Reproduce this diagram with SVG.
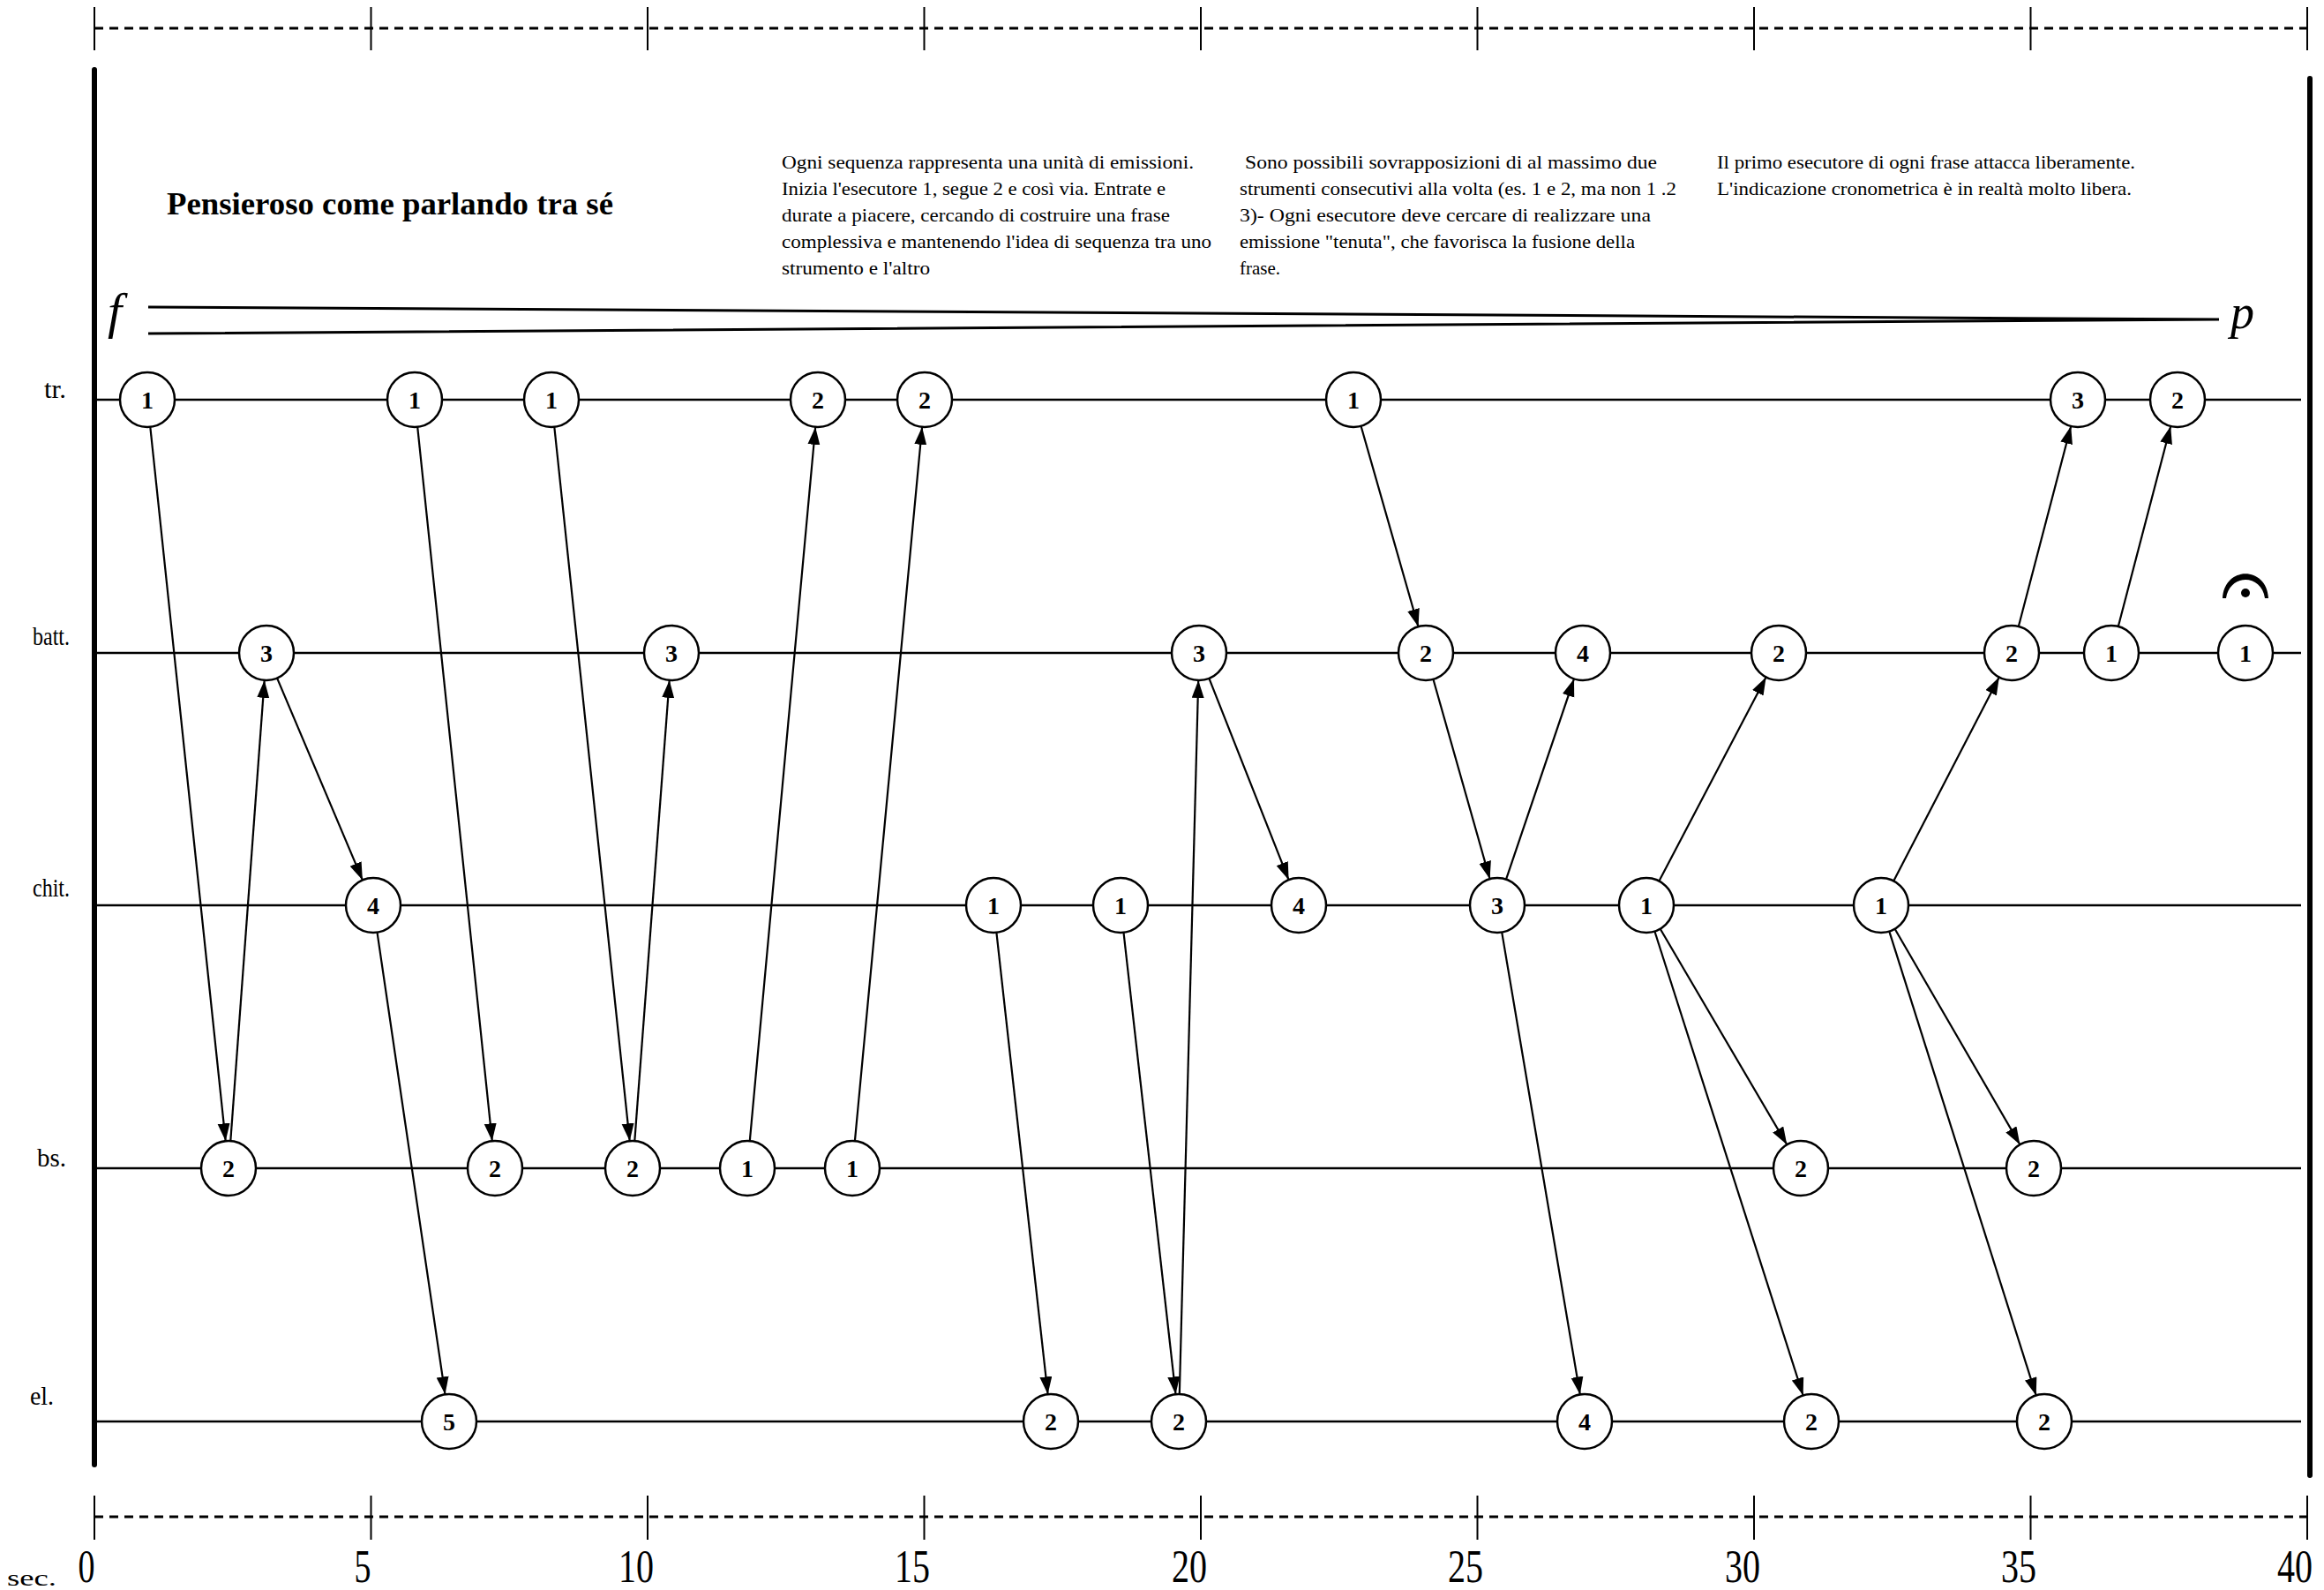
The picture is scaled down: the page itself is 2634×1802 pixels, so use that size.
<svg xmlns="http://www.w3.org/2000/svg" width="2634" height="1802" viewBox="0 0 2634 1802">
<style>
text{font-family:"Liberation Serif","DejaVu Serif",serif;fill:#000}
.staff{stroke:#000;stroke-width:2.5}
.bar{stroke:#000;stroke-width:6;stroke-linecap:round}
.tick{stroke:#000;stroke-width:2}
.dash{stroke:#000;stroke-width:3;stroke-dasharray:10 7}
.conn line{stroke:#000;stroke-width:2.2;marker-end:url(#ah)}
.node circle{fill:#fff;stroke:#000;stroke-width:2.5}
.node text{font-weight:bold;font-size:28px;text-anchor:middle}
.lbl{font-size:30px}
.note{font-size:21px}
.num{font-size:52px;text-anchor:middle}
</style>
<defs>
<marker id="ah" markerUnits="userSpaceOnUse" markerWidth="21" markerHeight="15" refX="20" refY="7" orient="auto">
<path d="M0,0 L20,7 L0,14 z" fill="#000"/>
</marker>
</defs>
<rect width="2634" height="1802" fill="#fff"/>

<g id="ruler-top">
<line class="dash" x1="107" y1="32" x2="2620" y2="32"/>
<line class="tick" x1="107" y1="8" x2="107" y2="57"/>
<line class="tick" x1="420.5" y1="8" x2="420.5" y2="57"/>
<line class="tick" x1="734" y1="8" x2="734" y2="57"/>
<line class="tick" x1="1047.5" y1="8" x2="1047.5" y2="57"/>
<line class="tick" x1="1361" y1="8" x2="1361" y2="57"/>
<line class="tick" x1="1674.5" y1="8" x2="1674.5" y2="57"/>
<line class="tick" x1="1988" y1="8" x2="1988" y2="57"/>
<line class="tick" x1="2301.5" y1="8" x2="2301.5" y2="57"/>
<line class="tick" x1="2615" y1="8" x2="2615" y2="57"/>
</g>

<g id="ruler-bottom">
<line class="dash" x1="107" y1="1719" x2="2620" y2="1719"/>
<line class="tick" x1="107" y1="1695" x2="107" y2="1745"/>
<line class="tick" x1="420.5" y1="1695" x2="420.5" y2="1745"/>
<line class="tick" x1="734" y1="1695" x2="734" y2="1745"/>
<line class="tick" x1="1047.5" y1="1695" x2="1047.5" y2="1745"/>
<line class="tick" x1="1361" y1="1695" x2="1361" y2="1745"/>
<line class="tick" x1="1674.5" y1="1695" x2="1674.5" y2="1745"/>
<line class="tick" x1="1988" y1="1695" x2="1988" y2="1745"/>
<line class="tick" x1="2301.5" y1="1695" x2="2301.5" y2="1745"/>
<line class="tick" x1="2615" y1="1695" x2="2615" y2="1745"/>
<text x="8" y="1797" font-size="26" textLength="56" lengthAdjust="spacingAndGlyphs">sec.</text>
<text class="num" x="98" y="1793" textLength="19" lengthAdjust="spacingAndGlyphs">0</text>
<text class="num" x="411" y="1793" textLength="19" lengthAdjust="spacingAndGlyphs">5</text>
<text class="num" x="721" y="1793" textLength="40" lengthAdjust="spacingAndGlyphs">10</text>
<text class="num" x="1034" y="1793" textLength="40" lengthAdjust="spacingAndGlyphs">15</text>
<text class="num" x="1348" y="1793" textLength="40" lengthAdjust="spacingAndGlyphs">20</text>
<text class="num" x="1661" y="1793" textLength="40" lengthAdjust="spacingAndGlyphs">25</text>
<text class="num" x="1975" y="1793" textLength="40" lengthAdjust="spacingAndGlyphs">30</text>
<text class="num" x="2288" y="1793" textLength="40" lengthAdjust="spacingAndGlyphs">35</text>
<text class="num" x="2601" y="1793" textLength="40" lengthAdjust="spacingAndGlyphs">40</text>
</g>

<g id="bars">
<line class="bar" x1="107" y1="79" x2="107" y2="1660"/>
<line class="bar" x1="2618" y1="89" x2="2618" y2="1672"/>
</g>

<g id="header">
<text x="189" y="243" font-size="36" font-weight="bold" textLength="506" lengthAdjust="spacingAndGlyphs">Pensieroso come parlando tra sé</text>
<g class="note">
<text x="886" y="191" textLength="467" lengthAdjust="spacingAndGlyphs">Ogni sequenza rappresenta una unità di emissioni.</text>
<text x="886" y="221" textLength="435" lengthAdjust="spacingAndGlyphs">Inizia l'esecutore 1, segue 2 e così via. Entrate e</text>
<text x="886" y="251" textLength="440" lengthAdjust="spacingAndGlyphs">durate a piacere, cercando di costruire una frase</text>
<text x="886" y="281" textLength="487" lengthAdjust="spacingAndGlyphs">complessiva e mantenendo l'idea di sequenza tra uno</text>
<text x="886" y="311" textLength="168" lengthAdjust="spacingAndGlyphs">strumento e l'altro</text>
<text x="1411" y="191" textLength="467" lengthAdjust="spacingAndGlyphs">Sono possibili sovrapposizioni di al massimo due</text>
<text x="1405" y="221" textLength="495" lengthAdjust="spacingAndGlyphs">strumenti consecutivi alla volta (es. 1 e 2, ma non 1 .2</text>
<text x="1405" y="251" textLength="466" lengthAdjust="spacingAndGlyphs">3)- Ogni esecutore deve cercare di realizzare una</text>
<text x="1405" y="281" textLength="448" lengthAdjust="spacingAndGlyphs">emissione "tenuta", che favorisca la fusione della</text>
<text x="1405" y="311" textLength="46" lengthAdjust="spacingAndGlyphs">frase.</text>
<text x="1946" y="191" textLength="474" lengthAdjust="spacingAndGlyphs">Il primo esecutore di ogni frase attacca liberamente.</text>
<text x="1946" y="221" textLength="470" lengthAdjust="spacingAndGlyphs">L'indicazione cronometrica è in realtà molto libera.</text>
</g>
<text x="122" y="372" font-size="58" font-style="italic">f</text>
<text x="2528" y="372" font-size="54" font-style="italic">p</text>
<path d="M168,348 L2515,362 M168,378 L2515,362" stroke="#000" stroke-width="3" fill="none"/>
</g>

<g id="labels" class="lbl">
<text x="50" y="451" textLength="25" lengthAdjust="spacingAndGlyphs">tr.</text>
<text x="37" y="731" textLength="42" lengthAdjust="spacingAndGlyphs">batt.</text>
<text x="37" y="1016" textLength="42" lengthAdjust="spacingAndGlyphs">chit.</text>
<text x="42" y="1322" textLength="33" lengthAdjust="spacingAndGlyphs">bs.</text>
<text x="34" y="1592" textLength="27" lengthAdjust="spacingAndGlyphs">el.</text>
</g>

<g id="staves">
<line class="staff" x1="110" y1="453" x2="2608" y2="453"/>
<line class="staff" x1="110" y1="740" x2="2608" y2="740"/>
<line class="staff" x1="110" y1="1026" x2="2608" y2="1026"/>
<line class="staff" x1="110" y1="1324" x2="2608" y2="1324"/>
<line class="staff" x1="110" y1="1611" x2="2608" y2="1611"/>
</g>

<g id="fermata">
<path d="M2519,678 C2521,641 2569,641 2571,678 L2567,678 C2563,650 2527,650 2523,678 Z" fill="#000"/>
<circle cx="2545" cy="672" r="5"/>
</g>

<g id="connectors" class="conn">
<line x1="170.3" y1="483.8" x2="255.7" y2="1293.2"/>
<line x1="261.3" y1="1293.1" x2="299.7" y2="770.9"/>
<line x1="314.1" y1="768.6" x2="410.9" y2="997.4"/>
<line x1="427.5" y1="1056.7" x2="504.5" y2="1580.3"/>
<line x1="473.2" y1="483.8" x2="557.8" y2="1293.2"/>
<line x1="628.3" y1="483.8" x2="713.7" y2="1293.2"/>
<line x1="719.3" y1="1293.1" x2="758.7" y2="770.9"/>
<line x1="849.8" y1="1293.1" x2="924.2" y2="483.9"/>
<line x1="968.9" y1="1293.1" x2="1045.1" y2="483.9"/>
<line x1="1129.4" y1="1056.8" x2="1187.6" y2="1580.2"/>
<line x1="1273.5" y1="1056.8" x2="1332.5" y2="1580.2"/>
<line x1="1336.8" y1="1580.0" x2="1358.2" y2="771.0"/>
<line x1="1370.4" y1="768.8" x2="1460.6" y2="997.2"/>
<line x1="1542.5" y1="482.8" x2="1607.5" y2="710.2"/>
<line x1="1624.4" y1="769.8" x2="1688.6" y2="996.2"/>
<line x1="1707.0" y1="996.6" x2="1784.0" y2="769.4"/>
<line x1="1702.2" y1="1056.6" x2="1790.8" y2="1580.4"/>
<line x1="1880.4" y1="998.5" x2="2001.6" y2="767.5"/>
<line x1="1881.7" y1="1052.7" x2="2025.3" y2="1297.3"/>
<line x1="1875.4" y1="1055.5" x2="2043.6" y2="1581.5"/>
<line x1="2146.2" y1="998.5" x2="2265.8" y2="767.5"/>
<line x1="2147.6" y1="1052.8" x2="2289.4" y2="1297.2"/>
<line x1="2141.3" y1="1055.6" x2="2307.7" y2="1581.4"/>
<line x1="2287.8" y1="710.0" x2="2347.2" y2="483.0"/>
<line x1="2400.8" y1="710.0" x2="2460.2" y2="483.0"/>
</g>

<g id="nodes">
<g id="tr-1a" class="node"><circle cx="167" cy="453" r="31"/><text x="167" y="463">1</text></g>
<g id="tr-1b" class="node"><circle cx="470" cy="453" r="31"/><text x="470" y="463">1</text></g>
<g id="tr-1c" class="node"><circle cx="625" cy="453" r="31"/><text x="625" y="463">1</text></g>
<g id="tr-2a" class="node"><circle cx="927" cy="453" r="31"/><text x="927" y="463">2</text></g>
<g id="tr-2b" class="node"><circle cx="1048" cy="453" r="31"/><text x="1048" y="463">2</text></g>
<g id="tr-1d" class="node"><circle cx="1534" cy="453" r="31"/><text x="1534" y="463">1</text></g>
<g id="tr-3" class="node"><circle cx="2355" cy="453" r="31"/><text x="2355" y="463">3</text></g>
<g id="tr-2c" class="node"><circle cx="2468" cy="453" r="31"/><text x="2468" y="463">2</text></g>

<g id="batt-3a" class="node"><circle cx="302" cy="740" r="31"/><text x="302" y="750">3</text></g>
<g id="batt-3b" class="node"><circle cx="761" cy="740" r="31"/><text x="761" y="750">3</text></g>
<g id="batt-3c" class="node"><circle cx="1359" cy="740" r="31"/><text x="1359" y="750">3</text></g>
<g id="batt-2a" class="node"><circle cx="1616" cy="740" r="31"/><text x="1616" y="750">2</text></g>
<g id="batt-4" class="node"><circle cx="1794" cy="740" r="31"/><text x="1794" y="750">4</text></g>
<g id="batt-2b" class="node"><circle cx="2016" cy="740" r="31"/><text x="2016" y="750">2</text></g>
<g id="batt-2c" class="node"><circle cx="2280" cy="740" r="31"/><text x="2280" y="750">2</text></g>
<g id="batt-1a" class="node"><circle cx="2393" cy="740" r="31"/><text x="2393" y="750">1</text></g>
<g id="batt-1b" class="node"><circle cx="2545" cy="740" r="31"/><text x="2545" y="750">1</text></g>

<g id="chit-4a" class="node"><circle cx="423" cy="1026" r="31"/><text x="423" y="1036">4</text></g>
<g id="chit-1a" class="node"><circle cx="1126" cy="1026" r="31"/><text x="1126" y="1036">1</text></g>
<g id="chit-1b" class="node"><circle cx="1270" cy="1026" r="31"/><text x="1270" y="1036">1</text></g>
<g id="chit-4b" class="node"><circle cx="1472" cy="1026" r="31"/><text x="1472" y="1036">4</text></g>
<g id="chit-3" class="node"><circle cx="1697" cy="1026" r="31"/><text x="1697" y="1036">3</text></g>
<g id="chit-1c" class="node"><circle cx="1866" cy="1026" r="31"/><text x="1866" y="1036">1</text></g>
<g id="chit-1d" class="node"><circle cx="2132" cy="1026" r="31"/><text x="2132" y="1036">1</text></g>

<g id="bs-2a" class="node"><circle cx="259" cy="1324" r="31"/><text x="259" y="1334">2</text></g>
<g id="bs-2b" class="node"><circle cx="561" cy="1324" r="31"/><text x="561" y="1334">2</text></g>
<g id="bs-2c" class="node"><circle cx="717" cy="1324" r="31"/><text x="717" y="1334">2</text></g>
<g id="bs-1a" class="node"><circle cx="847" cy="1324" r="31"/><text x="847" y="1334">1</text></g>
<g id="bs-1b" class="node"><circle cx="966" cy="1324" r="31"/><text x="966" y="1334">1</text></g>
<g id="bs-2d" class="node"><circle cx="2041" cy="1324" r="31"/><text x="2041" y="1334">2</text></g>
<g id="bs-2e" class="node"><circle cx="2305" cy="1324" r="31"/><text x="2305" y="1334">2</text></g>

<g id="el-5" class="node"><circle cx="509" cy="1611" r="31"/><text x="509" y="1621">5</text></g>
<g id="el-2a" class="node"><circle cx="1191" cy="1611" r="31"/><text x="1191" y="1621">2</text></g>
<g id="el-2b" class="node"><circle cx="1336" cy="1611" r="31"/><text x="1336" y="1621">2</text></g>
<g id="el-4" class="node"><circle cx="1796" cy="1611" r="31"/><text x="1796" y="1621">4</text></g>
<g id="el-2c" class="node"><circle cx="2053" cy="1611" r="31"/><text x="2053" y="1621">2</text></g>
<g id="el-2d" class="node"><circle cx="2317" cy="1611" r="31"/><text x="2317" y="1621">2</text></g>
</g>
</svg>
